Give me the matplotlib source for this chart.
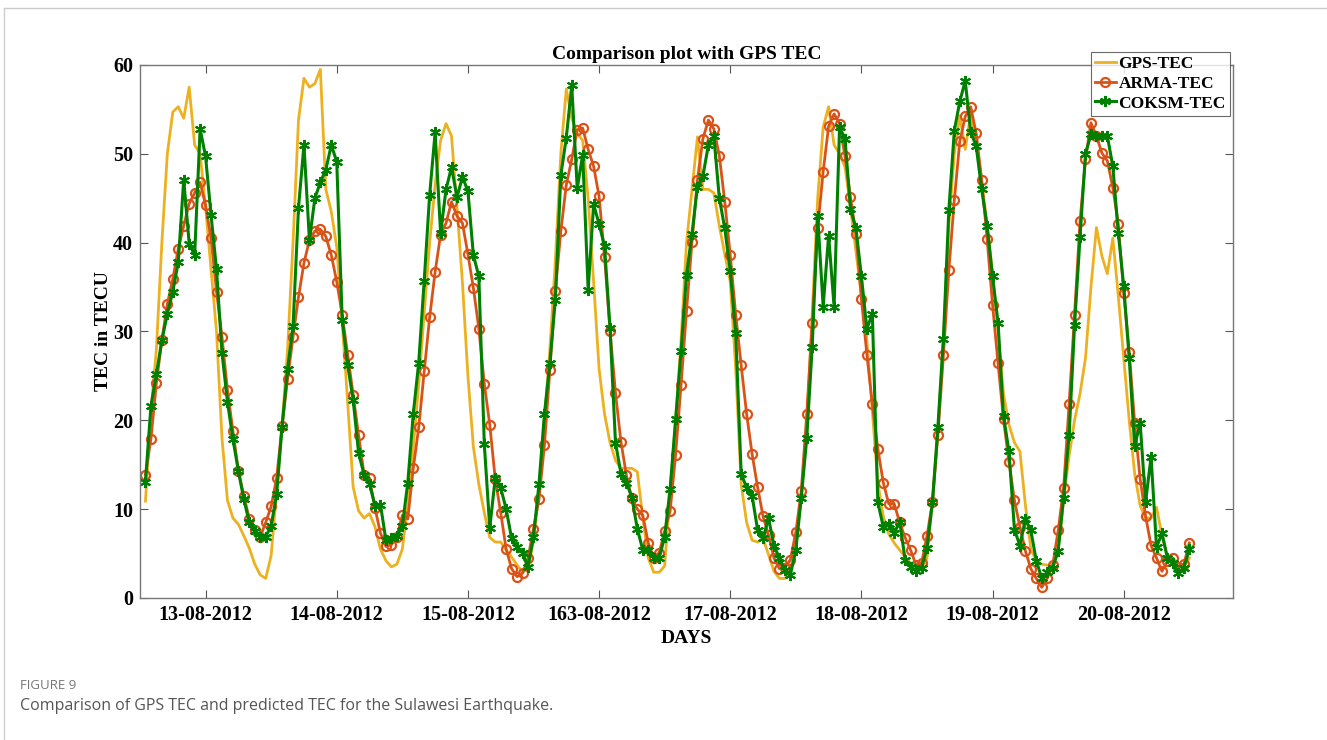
import numpy as np
import matplotlib
matplotlib.use('Agg')
import matplotlib.pyplot as plt
from matplotlib.lines import Line2D

# hourly TEC values, 8 days x 24 hours
gps_tec = [
    10.9, 21.0, 28.0, 40.0, 50.0, 54.7, 55.3, 54.0, 57.5, 51.0, 50.0, 44.0,
    37.0, 30.0, 18.0, 11.0, 9.0, 8.3, 7.0, 5.6, 3.8, 2.6, 2.2, 4.8,
    12.0, 19.5, 28.0, 40.0, 53.8, 58.5, 57.5, 57.9, 59.5, 46.0, 43.5, 39.5,
    31.0, 22.0, 12.5, 9.8, 9.0, 9.5, 8.0, 5.5, 4.2, 3.5, 3.8, 5.5,
    10.5, 17.0, 24.0, 32.0, 40.0, 46.5, 51.5, 53.4, 52.0, 44.0, 35.5, 25.0,
    17.0, 12.8, 9.6, 6.8, 6.3, 6.3, 5.4, 4.6, 3.7, 2.9, 3.3, 6.5,
    12.0, 20.0, 28.0, 38.0, 50.0, 57.3, 54.0, 52.3, 51.5, 45.0, 35.6, 25.8,
    20.7, 17.5, 15.5, 14.6, 14.6, 14.6, 14.2, 9.0, 4.5, 2.9, 2.9, 3.6,
    12.0, 20.0, 29.0, 40.0, 46.0, 51.9, 46.0, 46.0, 45.6, 41.9, 38.7, 35.6,
    25.8, 12.8, 8.5, 6.5, 6.3, 6.7, 4.9, 3.0, 2.2, 2.2, 3.0, 6.1,
    11.5, 19.5, 32.0, 45.0, 53.0, 55.3, 51.0, 50.0, 48.5, 44.0, 39.0, 34.0,
    29.0, 21.0, 13.0, 9.2, 7.2, 6.2, 5.4, 4.6, 3.9, 3.4, 3.2, 4.5,
    11.0, 19.0, 29.0, 42.0, 50.0, 54.3, 50.5, 54.5, 51.5, 47.0, 42.0, 36.5,
    30.0, 23.0, 19.5, 17.5, 16.5, 10.5, 5.5, 4.2, 3.8, 3.7, 3.7, 5.5,
    11.0, 16.0, 20.0, 23.0, 27.0, 35.0, 41.7, 38.5, 36.5, 40.5, 34.0, 27.0,
    20.0, 14.0, 10.4, 9.0, 9.0, 10.2, 7.0, 4.5, 3.7, 3.5, 3.5, 4.5,
]

arma_tec = [
    13.9, 17.9, 24.2, 29.0, 33.1, 35.9, 39.3, 41.9, 44.4, 45.6, 46.8, 44.2,
    40.5, 34.5, 29.4, 23.4, 18.8, 14.3, 11.5, 8.9, 7.7, 6.9, 8.5, 10.3,
    13.5, 19.4, 24.6, 29.4, 33.9, 37.7, 40.3, 41.3, 41.5, 40.7, 38.6, 35.6,
    31.9, 27.4, 22.9, 18.3, 13.9, 13.5, 10.1, 7.3, 5.8, 6.0, 6.9, 9.3,
    8.9, 14.6, 19.2, 25.5, 31.6, 36.7, 40.9, 42.2, 44.6, 43.0, 42.2, 38.7,
    34.9, 30.3, 24.1, 19.5, 13.4, 9.6, 5.5, 3.3, 2.4, 2.8, 4.5, 7.8,
    11.1, 17.2, 25.7, 34.6, 41.3, 46.5, 49.4, 52.7, 52.9, 50.5, 48.6, 45.2,
    38.4, 30.1, 23.1, 17.6, 13.8, 11.2, 10.0, 9.3, 6.2, 4.5, 5.1, 7.5,
    9.8, 16.1, 24.0, 32.3, 40.1, 47.1, 51.7, 53.8, 52.8, 49.8, 44.6, 38.6,
    31.9, 26.2, 20.7, 16.2, 12.5, 9.2, 7.1, 4.5, 3.3, 3.4, 4.3, 7.4,
    12.1, 20.7, 31.0, 41.6, 48.0, 53.1, 54.5, 53.4, 49.7, 45.1, 41.0, 33.7,
    27.4, 21.8, 16.8, 13.0, 10.6, 10.6, 8.5, 6.8, 5.4, 3.7, 3.9, 7.0,
    10.8, 18.4, 27.3, 36.9, 44.8, 51.4, 54.2, 55.3, 52.3, 47.1, 40.4, 33.0,
    26.4, 20.1, 15.3, 11.0, 8.0, 5.3, 3.3, 2.2, 1.2, 2.2, 3.7, 7.6,
    12.4, 21.8, 31.9, 42.4, 49.4, 53.5, 52.0, 50.1, 49.2, 46.2, 42.1, 34.3,
    27.7, 19.7, 13.4, 9.2, 5.9, 4.5, 3.0, 4.2, 4.5, 3.5, 3.8, 6.2,
]

coksm_tec = [
    13.1, 21.6, 25.2, 29.0, 32.0, 34.5, 37.8, 47.1, 39.9, 38.6, 52.8, 49.7,
    43.1, 37.0, 27.6, 22.1, 17.9, 14.3, 11.1, 8.5, 7.5, 6.9, 6.9, 8.1,
    11.7, 19.3, 25.8, 30.6, 43.9, 51.0, 40.3, 45.0, 46.8, 48.2, 51.0, 49.1,
    31.3, 26.2, 22.3, 16.3, 13.9, 12.8, 10.4, 10.5, 6.5, 6.8, 7.0, 8.1,
    13.0, 20.7, 26.5, 35.7, 45.4, 52.4, 41.1, 46.0, 48.5, 45.1, 47.4, 45.8,
    38.6, 36.2, 17.3, 7.9, 13.5, 12.4, 10.0, 6.7, 5.7, 5.1, 3.5, 6.9,
    12.8, 20.7, 26.5, 33.6, 47.6, 51.8, 57.7, 46.1, 49.9, 34.7, 44.3, 42.1,
    39.6, 30.4, 17.5, 14.0, 13.0, 11.3, 7.8, 5.4, 5.4, 4.5, 4.5, 6.9,
    12.3, 20.1, 27.8, 36.4, 41.0, 46.3, 47.5, 51.0, 52.0, 45.0, 41.6, 36.8,
    29.8, 14.0, 12.4, 11.5, 7.7, 6.7, 9.0, 5.9, 4.5, 3.1, 2.6, 5.4,
    11.3, 18.0, 28.3, 43.0, 32.8, 40.8, 32.8, 53.0, 51.7, 43.8, 41.6, 36.2,
    30.3, 32.0, 10.8, 8.0, 8.3, 7.3, 8.6, 4.3, 3.5, 3.0, 3.4, 5.6,
    10.8, 19.3, 29.2, 43.7, 52.6, 55.9, 58.2, 52.4, 50.9, 46.0, 41.9, 36.2,
    31.0, 20.5, 16.5, 7.7, 5.9, 8.9, 7.6, 4.2, 2.2, 2.9, 3.4, 5.3,
    11.3, 18.3, 30.7, 40.6, 50.0, 52.2, 52.0, 52.0, 52.0, 48.6, 41.1, 35.1,
    27.0, 17.1, 19.7, 10.8, 15.9, 5.7, 7.3, 4.5, 3.9, 2.8, 3.4, 5.5,
]

day_labels = ['13-08-2012', '14-08-2012', '15-08-2012', '163-08-2012',
              '17-08-2012', '18-08-2012', '19-08-2012', '20-08-2012']
day_ticks = [12, 36, 60, 84, 108, 132, 156, 180]
y_ticks = [0, 10, 20, 30, 40, 50, 60]

hours = np.arange(1, len(gps_tec) + 1)

serif = 'Liberation Serif'
c_gps = '#EDB120'
c_arma = '#D95319'
c_coksm = '#008000'

fig = plt.figure(figsize=(13.27, 7.40), dpi=100)
ax = fig.add_axes([0.1055, 0.1919, 0.8237, 0.7203])

ax.plot(hours, gps_tec, '-', color=c_gps, lw=2.0, label='GPS-TEC')
ax.plot(hours, arma_tec, '-', color=c_arma, lw=2.0, marker='o', ms=6.5,
        mfc='none', mew=1.6, label='ARMA-TEC')
ax.plot(hours, coksm_tec, '-', color=c_coksm, lw=2.2, marker=(6, 2, 0), ms=8,
        mew=1.5, label='COKSM-TEC')

ax.set_xlim(0, 200)
ax.set_ylim(0, 60)
ax.set_xticks(day_ticks)
ax.set_xticklabels(day_labels)
ax.set_yticks(y_ticks)
ax.tick_params(direction='in', length=6, width=0.8, color='#555555',
               top=True, right=True, labelsize=14.5, pad=5)
for lab in ax.get_xticklabels() + ax.get_yticklabels():
    lab.set_family(serif)
    lab.set_fontweight('bold')
for sp in ax.spines.values():
    sp.set_color('#777777')
    sp.set_linewidth(1.0)

ax.set_title('Comparison plot with GPS TEC', family=serif, fontweight='bold',
             fontsize=14, pad=4)
ax.set_xlabel('DAYS', family=serif, fontweight='bold', fontsize=14, labelpad=4)
ax.set_ylabel('TEC in TECU', family=serif, fontweight='bold', fontsize=14, labelpad=1)

leg = ax.legend(loc='upper right', bbox_to_anchor=(0.927, 0.930),
                bbox_transform=fig.transFigure, frameon=True, fancybox=False,
                edgecolor='#444444', handlelength=1.2, handletextpad=0.15,
                borderpad=0.25, labelspacing=0.2, borderaxespad=0,
                prop={'family': serif, 'weight': 'bold', 'size': 12.5})
leg.get_frame().set_linewidth(0.8)

# page frame and caption
fig.add_artist(Line2D([0.003, 0.003], [0.0, 0.989], color='#cccccc', lw=1.0,
                      transform=fig.transFigure))
fig.add_artist(Line2D([0.003, 1.0], [0.989, 0.989], color='#cccccc', lw=1.0,
                      transform=fig.transFigure))
fig.text(0.015, 0.073, 'FIGURE 9', family='Open Sans', fontsize=9.5,
         color='#777777', va='center')
fig.text(0.015, 0.046, 'Comparison of GPS TEC and predicted TEC for the Sulawesi Earthquake.',
         family='Open Sans', fontsize=11.5, color='#555555', va='center')

fig.savefig('out.png', dpi=100)
